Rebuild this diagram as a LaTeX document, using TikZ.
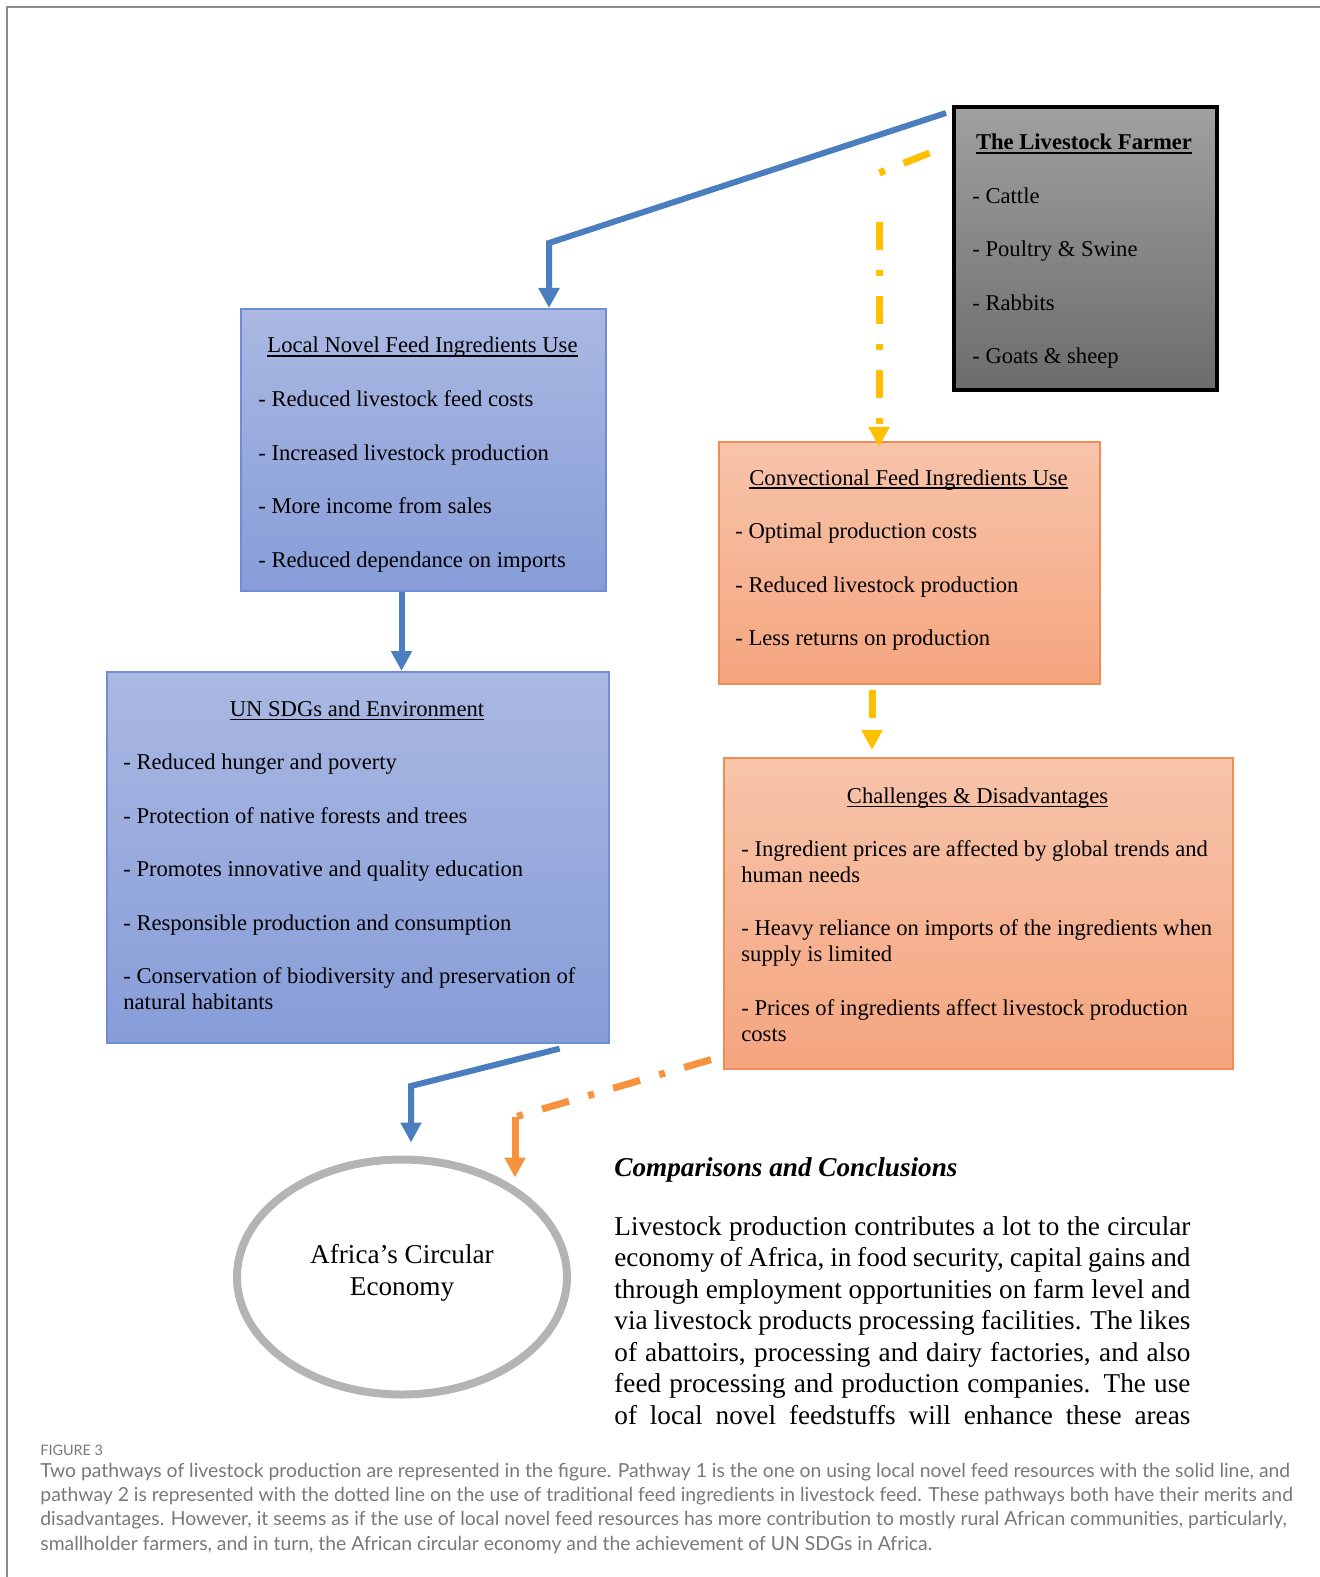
\documentclass[tikz,border=0pt]{standalone}
\usepackage{fontspec}
\setmainfont{Liberation Serif}
\newfontfamily\capfont{Lato}
\usepackage{tikz}
\usetikzlibrary{arrows.meta,shapes.geometric,calc}
\definecolor{farmtop}{HTML}{A0A0A0}
\definecolor{farmbot}{HTML}{6C6C6C}
\definecolor{bluetop}{HTML}{AAB8E2}
\definecolor{bluebot}{HTML}{879DD8}
\definecolor{blueedge}{HTML}{6F8DD6}
\definecolor{peachtop}{HTML}{F7C4AB}
\definecolor{peachbot}{HTML}{F5A57F}
\definecolor{peachedge}{HTML}{F08D52}
\definecolor{pathblue}{HTML}{4A7EBF}
\definecolor{pathgold}{HTML}{FFC000}
\definecolor{pathorange}{HTML}{F7923E}
\definecolor{ringgray}{HTML}{B4B4B4}
\definecolor{capgray}{HTML}{787878}
\definecolor{framegray}{HTML}{8C8C8C}
\newcommand\boxfont{\fontsize{11.3}{13}\selectfont}
\newcommand\bigfont{\fontsize{13.6}{15.75}\selectfont}
\newcommand\undl[1]{\setbox0=\hbox{#1}\rlap{\rule[-1.8pt]{\wd0}{0.55pt}}\box0}

\begin{document}
\begin{tikzpicture}
  [x=0.5pt,y=-0.5pt,
   every node/.style={inner sep=0pt,font=\boxfont},
   farmbox/.style={draw=black,line width=2pt,top color=farmtop,bottom color=farmbot,anchor=north west},
   novelbox/.style={draw=blueedge,line width=0.8pt,top color=bluetop,bottom color=bluebot,anchor=north west},
   tradbox/.style={draw=peachedge,line width=0.8pt,top color=peachtop,bottom color=peachbot,anchor=north west},
   head/.style={anchor=base},
   item/.style={anchor=base west},
   pathone/.style={draw=pathblue,line width=3pt},
   pathtwo/.style={line width=3.5pt,dash pattern=on 14pt off 10pt on 3pt off 10pt},
   tip/.style={-{Triangle[width=10pt,length=10pt]}}]

  \useasboundingbox (0,0) rectangle (1320,1577);
  \draw[framegray,line width=1pt] (7,1577) -- (7,7) -- (1320,7);

  \node[farmbox,minimum width=131.5pt,minimum height=141.5pt] (farmer) at (952,105) {};
  \node[novelbox,minimum width=182.5pt,minimum height=141pt] (local) at (240,308) {};
  \node[novelbox,minimum width=251pt,minimum height=185.5pt] (un) at (106,671) {};
  \node[tradbox,minimum width=190.5pt,minimum height=121pt] (conv) at (718,441) {};
  \node[tradbox,minimum width=254.5pt,minimum height=155.5pt] (chal) at (723,757) {};
  \node[ellipse,draw=ringgray,line width=4pt,minimum width=165pt,minimum height=117.5pt,outer sep=0pt] (econ) at (402,1277) {};

  \node[head,font=\boxfont\bfseries] (farmer-h) at (1084,150) {\undl{The Livestock Farmer}};
  \foreach \t [count=\i] in {Cattle,Poultry \& Swine,Rabbits,Goats \& sheep}
    \node[item] (farmer-\i) at (972,{150+53.5*\i}) {- \t};

  \node[head] (local-h) at (422.5,353) {\undl{Local Novel Feed Ingredients Use}};
  \foreach \t [count=\i] in {Reduced livestock feed costs,Increased livestock production,More income from sales,Reduced dependance on imports}
    \node[item] (local-\i) at (258,{353+53.5*\i}) {- \t};

  \node[head] (un-h) at (357,716) {\undl{UN SDGs and Environment}};
  \foreach \t [count=\i] in {Reduced hunger and poverty,Protection of native forests and trees,Promotes innovative and quality education,Responsible production and consumption,Conservation of biodiversity and preservation of\\natural habitants}
    \node[item] (un-\i) at (123,{716+53.5*\i}) {\parbox[t]{260pt}{- \t}};

  \node[head] (conv-h) at (908.5,485) {\undl{Convectional Feed Ingredients Use}};
  \foreach \t [count=\i] in {Optimal production costs,Reduced livestock production,Less returns on production}
    \node[item] (conv-\i) at (735,{485+53.5*\i}) {- \t};

  \node[head] (chal-h) at (977.5,803) {\undl{Challenges \& Disadvantages}};
  \foreach \t [count=\i] in {Ingredient prices are affected by global trends and\\human needs,Heavy reliance on imports of the ingredients when\\supply is limited,Prices of ingredients affect livestock production\\costs}
    \node[item] (chal-\i) at (741,{856+79.5*(\i-1)}) {\parbox[t]{260pt}{- \t}};

  \node[align=center,font=\bigfont] (econ-t) at (402,1273) {Africa's Circular\\Economy};

  \node[item,font=\bigfont\bfseries\itshape] (concl-h) at (614,1176) {Comparisons and Conclusions};
  \node[item,font=\bigfont] (concl) at (614,1235) {\parbox[t]{288pt}{%
    \makebox[288pt][s]{Livestock production contributes a lot to the circular}\\
    \makebox[288pt][s]{economy of Africa, in food security, capital gains and}\\
    \makebox[288pt][s]{through employment opportunities on farm level and}\\
    \makebox[288pt][s]{via livestock products processing facilities. The likes}\\
    \makebox[288pt][s]{of abattoirs, processing and dairy factories, and also}\\
    \makebox[288pt][s]{feed processing and production companies. The use}\\
    \makebox[288pt][s]{of local novel feedstuffs will enhance these areas}}};

  \node[item,font=\capfont\fontsize{7.2}{8}\selectfont,text=capgray] (fig-no) at (40,1455) {FIGURE 3};
  \node[item,font=\capfont\fontsize{9.67}{12.2}\selectfont,text=capgray] (caption) at (40,1477) {\parbox[t]{700pt}{%
    Two pathways of livestock production are represented in the figure. Pathway 1 is the one on using local novel feed resources with the solid line, and\\
    pathway 2 is represented with the dotted line on the use of traditional feed ingredients in livestock feed. These pathways both have their merits and\\
    disadvantages. However, it seems as if the use of local novel feed resources has more contribution to mostly rural African communities, particularly,\\
    smallholder farmers, and in turn, the African circular economy and the achievement of UN SDGs in Africa.}};

  \coordinate (b0) at (401.5,600);
  \coordinate (b1) at (549,243);
  \coordinate (b2) at (879,173);
  \coordinate (y2) at (872,700);
  \coordinate (b3) at (411,1086);
  \coordinate (b4) at (515,1117);

  \draw[pathone,tip] ([shift={(-6,8)}]farmer.north west) -- (b1) -- (b1 |- local.north);
  \draw[pathone,tip] (b0 |- local.south) -- (b0 |- un.north);
  \draw[pathone,tip] ([shift={(-50,5)}]un.south east) -- (b3) -- ($(b3 |- econ.north)+(0,-17)$);
  \draw[pathtwo,draw=pathgold] ([shift={(-22.5,48)}]farmer.north west) -- (b2);
  \draw[pathtwo,draw=pathgold,tip] ($(b2)+(0,49)$) -- ($(b2 |- conv.north)+(0,6)$);
  \draw[pathtwo,draw=pathgold,tip] ($(y2 |- conv.south)+(0,5)$) -- ($(y2 |- chal.north)+(0,-7)$);
  \draw[pathtwo,draw=pathorange] ([shift={(-12,-10)}]chal.south west) -- (b4);
  \draw[pathone,draw=pathorange,line width=3.5pt,tip] (b4) -- ($(b4 |- econ.north)+(0,18)$);
\end{tikzpicture}
\end{document}
